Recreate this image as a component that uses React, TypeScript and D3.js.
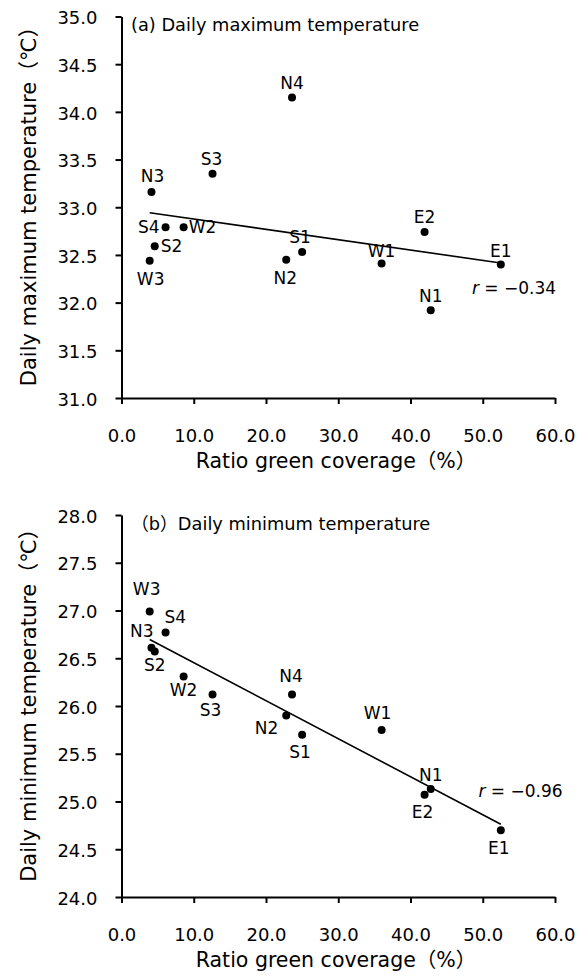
import React, { useEffect, useRef } from "react";
import * as d3 from "d3";

// site names and their green coverage ratio (%)
const sites = ["W3", "N3", "S2", "S4", "W2", "S3", "N2", "N4", "S1", "W1", "E2", "N1", "E1"];
const greenCoverage = [3.9, 4.15, 4.6, 6.1, 8.6, 12.6, 22.8, 23.6, 25.0, 36.0, 41.95, 42.8, 52.5];

// daily max / min temperature (°C) per site
const maxTemp = [32.44, 33.16, 32.59, 32.79, 32.79, 33.35, 32.45, 34.15, 32.53, 32.41, 32.74, 31.92, 32.4];
const minTemp = [26.99, 26.61, 26.57, 26.77, 26.31, 26.12, 25.9, 26.12, 25.7, 25.75, 25.07, 25.13, 24.7];

const xTicks = [0, 10, 20, 30, 40, 50, 60];
const maxTicks = [31.0, 31.5, 32.0, 32.5, 33.0, 33.5, 34.0, 34.5, 35.0];
const minTicks = [24.0, 24.5, 25.0, 25.5, 26.0, 26.5, 27.0, 27.5, 28.0];

const rLabels = ["−0.34", "−0.96"];

type Place = [number, number, string]; // dx, dy, anchor

// where each site's label sits relative to its dot
const placeA: Record<string, Place> = {
  W3: [1, 24, "middle"], N3: [1, -10, "middle"], S2: [6, 6, "start"], S4: [-6, 6, "end"],
  W2: [5, 6, "start"], S3: [-1, -9, "middle"], N2: [-1, 24, "middle"], N4: [0, -9, "middle"],
  S1: [-2, -9, "middle"], W1: [0, -7, "middle"], E2: [0, -9, "middle"], N1: [0, -8, "middle"],
  E1: [0, -7, "middle"],
};
const placeB: Record<string, Place> = {
  W3: [-3, -16, "middle"], N3: [2, -11, "end"], S2: [0, 19, "middle"], S4: [-1, -9, "start"],
  W2: [0, 20, "middle"], S3: [-2, 21, "middle"], N2: [-8, 18, "end"], N4: [-1, -13, "middle"],
  S1: [-2, 23, "middle"], W1: [-4, -11, "middle"], E2: [-2, 23, "middle"], N1: [0, -8, "middle"],
  E1: [-2, 24, "middle"],
};

const FONT = "'DejaVu Sans', 'Noto Sans CJK JP', sans-serif";

export default function App() {
  const ref = useRef<SVGSVGElement>(null);

  useEffect(() => {
    const svg = d3.select(ref.current);
    svg.selectAll("*").remove();

    const x = d3.scaleLinear().domain([0, 60]).range([121.5, 555]);

    const panels = [
      {
        vals: maxTemp, ticks: maxTicks, domain: [31, 35], range: [398, 16.5],
        title: "(a) Daily maximum temperature", ytitle: "Daily maximum temperature（℃）",
        place: placeA, r: rLabels[0], rPos: [48.5, 32.09],
      },
      {
        vals: minTemp, ticks: minTicks, domain: [24, 28], range: [897, 515],
        title: "（b）Daily minimum temperature", ytitle: "Daily minimum temperature（℃）",
        place: placeB, r: rLabels[1], rPos: [49.4, 25.05],
      },
    ];

    panels.forEach(p => {
      const y = d3.scaleLinear().domain(p.domain).range(p.range);
      const g = svg.append("g").attr("font-family", FONT);
      const bottom = p.range[0];

      // axes
      g.append("g")
        .attr("transform", `translate(${x(0)},0)`)
        .call(d3.axisLeft(y).tickValues(p.ticks).tickFormat(d3.format(".1f")).tickSize(6).tickSizeOuter(0).tickPadding(18))
        .call(a => a.selectAll("text").attr("font-size", 18).attr("font-family", FONT).attr("fill", "#000").attr("dy", "0.4em"))
        .call(a => a.selectAll("line,path").attr("stroke", "#000").attr("stroke-width", 2));

      g.append("g")
        .attr("transform", `translate(0,${bottom})`)
        .call(d3.axisBottom(x).tickValues(xTicks).tickFormat(d3.format(".1f")).tickSize(6).tickSizeOuter(0).tickPadding(25))
        .call(a => a.selectAll("text").attr("font-size", 18).attr("font-family", FONT).attr("fill", "#000"))
        .call(a => a.selectAll("line,path").attr("stroke", "#000").attr("stroke-width", 2));

      // regression line over the observed x range
      const xm = d3.mean(greenCoverage)!;
      const ym = d3.mean(p.vals)!;
      const sxy = d3.sum(greenCoverage, (v, i) => (v - xm) * (p.vals[i] - ym));
      const sxx = d3.sum(greenCoverage, v => (v - xm) ** 2);
      const slope = sxy / sxx;
      const [x0, x1] = d3.extent(greenCoverage) as [number, number];
      const fit = (v: number) => ym + slope * (v - xm);
      g.append("path")
        .attr("d", d3.line<number>().x(v => x(v)).y(v => y(fit(v)))([x0, x1]))
        .attr("stroke", "#000")
        .attr("stroke-width", 1.6)
        .attr("fill", "none");

      // dots + site labels
      g.selectAll("circle.dot")
        .data(sites)
        .join("circle")
        .attr("cx", (d, i) => x(greenCoverage[i]))
        .attr("cy", (d, i) => y(p.vals[i]))
        .attr("r", 4)
        .attr("fill", "#000");

      g.selectAll("text.site")
        .data(sites)
        .join("text")
        .attr("class", "site")
        .attr("x", (d, i) => x(greenCoverage[i]) + p.place[d][0])
        .attr("y", (d, i) => y(p.vals[i]) + p.place[d][1])
        .attr("text-anchor", d => p.place[d][2])
        .attr("font-size", 17)
        .text(d => d);

      // correlation note
      const rt = g.append("text")
        .attr("x", x(p.rPos[0]))
        .attr("y", y(p.rPos[1]))
        .attr("font-size", 17);
      rt.append("tspan").attr("font-style", "italic").text("r");
      rt.append("tspan").text(` = ${p.r}`);

      // panel title
      g.append("text")
        .attr("x", 131)
        .attr("y", p.range[1] + 14.5)
        .attr("font-size", 17.8)
        .text(p.title);

      // axis titles
      g.append("text")
        .attr("transform", `translate(35.5,${(p.range[0] + p.range[1]) / 2 - 6}) rotate(-90)`)
        .attr("text-anchor", "middle")
        .attr("font-size", 21)
        .text(p.ytitle);

      g.append("text")
        .attr("x", 336)
        .attr("y", bottom + 70)
        .attr("text-anchor", "middle")
        .attr("font-size", 20.5)
        .text("Ratio green coverage（%）");
    });
  }, []);

  return (
    <svg
      ref={ref}
      width={587}
      height={976}
      style={{ position: "absolute", left: 0, top: 0, background: "#fff" }}
    />
  );
}
